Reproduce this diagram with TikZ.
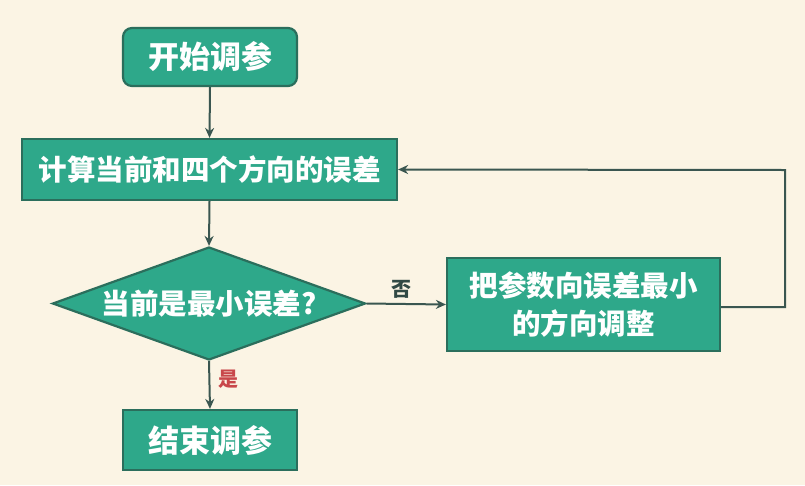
\documentclass[tikz,border=0pt]{standalone}
\usepackage{fontspec}
\newfontfamily\cjk{Noto Sans CJK SC}
\usetikzlibrary{shapes.geometric,arrows.meta}
\definecolor{bgc}{HTML}{FBF4E4}
\definecolor{boxfill}{HTML}{2EA88A}
\definecolor{boxline}{HTML}{2B6E5C}
\definecolor{arrowc}{HTML}{3A5650}
\definecolor{yesred}{HTML}{C8474A}
\begin{document}
\begin{tikzpicture}[x=1pt,y=-1pt,
  base/.style={draw=boxline,line width=2.2pt,fill=boxfill,text=white,font=\cjk\bfseries\fontsize{28.5}{38}\selectfont,inner sep=0pt},
  rbox/.style={base,rounded corners=9pt,minimum width=174pt,minimum height=58pt,font=\cjk\bfseries\fontsize{31}{36}\selectfont},
  sbox/.style={base},
  dec/.style={base,diamond,minimum width=313pt,minimum height=113pt,aspect=2.77},
  conn/.style={draw=arrowc,line width=2pt,-{Stealth[length=10pt,width=9pt]}},
  lab/.style={inner sep=0pt,font=\cjk\bfseries\fontsize{20}{22}\selectfont}
]
\fill[bgc] (0,0) rectangle (805,485);
\useasboundingbox (0,0) rectangle (805,485);
\node[rbox] (start) at (210,57) {开始调参};
\node[sbox,minimum width=375pt,minimum height=61pt] (calc) at (209.5,169.5) {计算当前和四个方向的误差};
\node[dec] (dec) at (209,303.5) {当前是最小误差?};
\node[sbox,minimum width=273pt,minimum height=93pt,align=center] (adj) at (583.5,304.5) {把参数向误差最小\\的方向调整};
\node[sbox,minimum width=174pt,minimum height=60pt,font=\cjk\bfseries\fontsize{31}{36}\selectfont] (end) at (210,440) {结束调参};
\coordinate (c1) at (785,307);
\coordinate (c2) at (785,170);
\draw[conn] (start.south) -- (calc.north);
\draw[conn] (calc.south) -- (dec.north);
\draw[conn] (dec.south) -- (end.north);
\draw[conn] (dec.east) -- (adj.west);
\node[lab,text=arrowc!85!black] (no) at (401,289) {否};
\draw[conn] (adj.east |- c1) -- (c1) -- (c2) -- (calc.east);
\node[lab,text=yesred] (yes) at (228,379) {是};
\end{tikzpicture}
\end{document}
